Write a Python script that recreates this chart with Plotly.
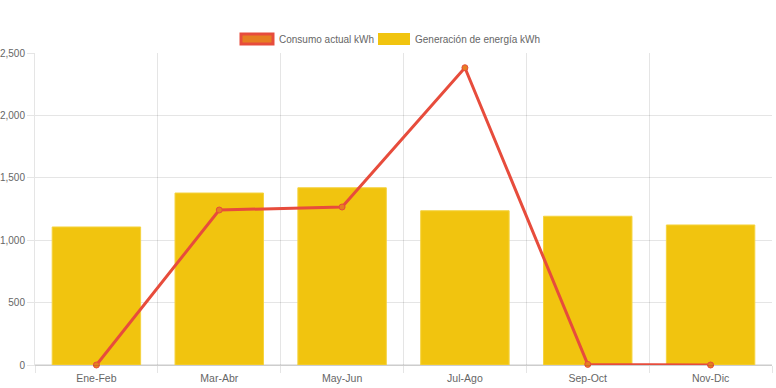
import plotly.graph_objects as go

categories = ["Ene-Feb", "Mar-Abr", "May-Jun", "Jul-Ago", "Sep-Oct", "Nov-Dic"]
generacion = [1106, 1378, 1420, 1236, 1192, 1122]
consumo = [0, 1242, 1266, 2382, 5, 0]
y_ticks = [0, 500, 1000, 1500, 2000, 2500]
legend_labels = ["Consumo actual kWh", "Generación de energía kWh"]

GRID = "rgba(0,0,0,0.1)"
FAM = "Liberation Sans, Arial, sans-serif"
FONT = dict(family=FAM, size=10.5, color="#666666")
LFONT = dict(family=FAM, size=10, color="#666666")

fig = go.Figure()
fig.add_trace(go.Bar(
    x=categories, y=generacion, name=legend_labels[1],
    marker=dict(color="#F1C40F", line=dict(color="#F5D33F", width=1)),
    width=0.72, showlegend=False,
))
fig.add_trace(go.Scatter(
    x=categories, y=consumo, name=legend_labels[0], mode="lines+markers",
    line=dict(color="#E74C3C", width=3),
    marker=dict(color="#E67E22", size=6, line=dict(color="#E74C3C", width=1)),
    cliponaxis=False, showlegend=False,
))

L, R, T, B = 35, 4, 53, 23
PW, PH = 776 - L - R, 388 - T - B

def px(x):
    return (x - L) / PW

def py(y):
    return (388 - B - y) / PH

# custom legend (Chart.js style boxes)
fig.add_shape(type="rect", xref="paper", yref="paper",
              x0=px(241), x1=px(273), y0=py(44), y1=py(34),
              fillcolor="#E67E22", line=dict(color="#E74C3C", width=3))
fig.add_shape(type="rect", xref="paper", yref="paper",
              x0=px(378), x1=px(410), y0=py(45), y1=py(33),
              fillcolor="#F1C40F", line=dict(color="#F1C40F", width=0))
fig.add_annotation(xref="paper", yref="paper", x=px(277), y=py(39.5),
                   text=legend_labels[0], showarrow=False, xanchor="left", yanchor="middle",
                   font=LFONT)
fig.add_annotation(xref="paper", yref="paper", x=px(413), y=py(39.5),
                   text=legend_labels[1], showarrow=False, xanchor="left", yanchor="middle",
                   font=LFONT)

fig.update_layout(
    width=776, height=388,
    margin=dict(l=L, r=R, t=T, b=B, autoexpand=False),
    paper_bgcolor="white", plot_bgcolor="white",
    font=FONT, showlegend=False, bargap=0.28,
)
fig.update_xaxes(
    type="category", tickson="boundaries", showgrid=True, gridcolor=GRID, gridwidth=1,
    ticks="outside", ticklen=7, tickcolor=GRID, showline=True, linecolor=GRID,
    tickfont=FONT, zeroline=False, automargin=False, ticklabelstandoff=3,
)
fig.update_yaxes(
    range=[0, 2500], tickvals=y_ticks, tickformat=",", showgrid=True, gridcolor=GRID,
    ticks="outside", ticklen=7, tickcolor=GRID, showline=True, linecolor=GRID,
    zeroline=True, zerolinecolor=GRID, tickfont=LFONT, automargin=False,
)

fig.write_html(
    "out.html",
    config={"displayModeBar": False},
    post_script="document.body.style.margin='0';document.body.style.overflow='hidden';",
)
